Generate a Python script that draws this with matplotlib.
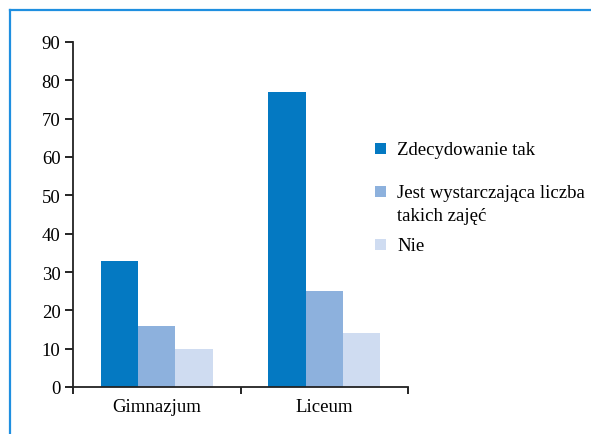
import matplotlib
matplotlib.use("Agg")
import matplotlib.pyplot as plt
from matplotlib.patches import Rectangle
from matplotlib.lines import Line2D
import numpy as np

categories = ["Gimnazjum", "Liceum"]
series_names = ["Zdecydowanie tak", "Jest wystarczająca liczba\ntakich zajęć", "Nie"]
zdecydowanie_tak = [33, 77]
wystarczajaca = [16, 25]
nie = [10, 14]
yticks = [0, 10, 20, 30, 40, 50, 60, 70, 80, 90]

colors = ["#0479c2", "#8db1dd", "#cfdcf1"]
frame_color = "#1f8fe0"

plt.rcParams["font.family"] = ["Liberation Serif", "DejaVu Serif"]
plt.rcParams["font.size"] = 13.5

fig = plt.figure(figsize=(5.91, 4.35), dpi=100)
ax = fig.add_axes([73/591, 47/435, 335/591, 345/435])

x = np.arange(len(categories))
w = 0.223
for i, vals in enumerate([zdecydowanie_tak, wystarczajaca, nie]):
    ax.bar(x + (i - 1) * w, vals, width=w, color=colors[i], edgecolor="none")

ax.set_xlim(-0.5, 1.5)
ax.set_ylim(0, 90)
ax.set_yticks(yticks)
ax.set_yticklabels([str(v) for v in yticks])
ax.set_xticks([-0.5, 0.5, 1.5], minor=False)
ax.set_xticklabels(["", "", ""])
ax.set_xticks(x, minor=True)
ax.set_xticklabels(categories, minor=True)
ax.tick_params(axis="x", which="minor", length=0, pad=8)
ax.tick_params(axis="x", which="major", length=5, width=1.2, direction="out")
ax.tick_params(axis="y", length=6, width=1.2, direction="out", pad=3)
for s in ["top", "right"]:
    ax.spines[s].set_visible(False)
for s in ["left", "bottom"]:
    ax.spines[s].set_linewidth(1.3)
    ax.spines[s].set_color("#222222")

# legend drawn manually
leg_y = [149, 192, 245]
for c, name, yy in zip(colors, series_names, leg_y):
    fig.patches.append(Rectangle((375/591, 1 - (yy + 6)/435), 11/591, 11/435,
                                 transform=fig.transFigure, color=c, ec="none"))
    fig.text(397/591, 1 - (yy - 7)/435, name, ha="left", va="top", fontsize=13.5,
             linespacing=1.45)

# frame lines
fig.add_artist(Line2D([10/591, 1], [1 - 11/435, 1 - 11/435], transform=fig.transFigure,
                      color=frame_color, lw=1.6))
fig.add_artist(Line2D([10/591, 10/591], [0, 1 - 11/435], transform=fig.transFigure,
                      color=frame_color, lw=1.6))

fig.savefig("out.png", dpi=100)
